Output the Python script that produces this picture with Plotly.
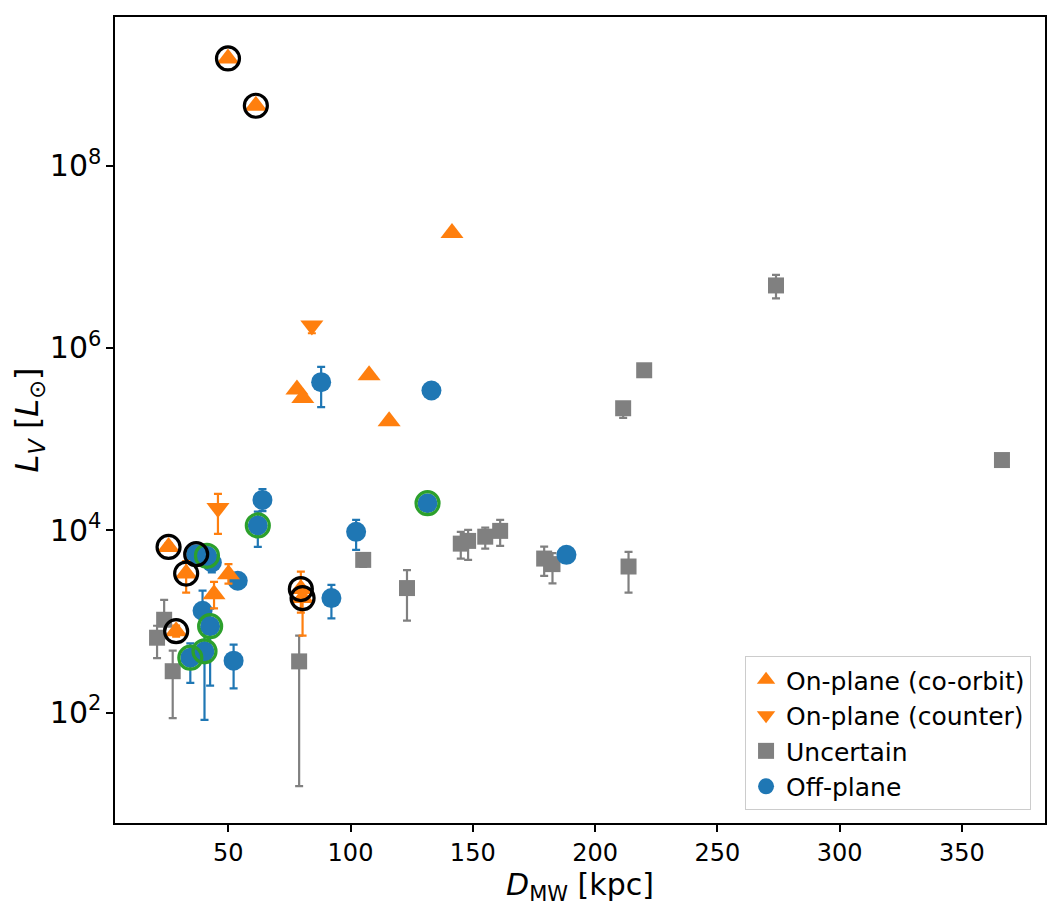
import plotly.graph_objects as go

# On-plane, co-orbiting (up triangles)
co_d = [49.9, 61.3, 141.5, 78.1, 80.5, 107.6, 115.8, 25.6, 32.8, 50.1, 44.2, 28.7, 79.7, 80.4]
co_l = [1.50e9, 4.54e8, 1.82e7, 3.50e5, 2.83e5, 5.02e5, 1.57e5, 6.56e3, 3.35e3, 3.30e3, 1.99e3, 780, 2.26e3, 1.80e3]
co_hi = [1.62e9, 4.9e8, 1.98e7, 3.50e5, 2.83e5, 5.02e5, 1.70e5, 7.2e3, 4.6e3, 4.25e3, 2.72e3, 900, 3.52e3, 2.3e3]
co_lo = [1.40e9, 4.2e8, 1.70e7, 3.50e5, 2.83e5, 5.02e5, 1.50e5, 6.0e3, 2.07e3, 2.6e3, 1.39e3, 680, 1.25e3, 697]

# On-plane, counter-orbiting (down triangles)
cn_d = [45.8, 84.2]
cn_l = [1.75e4, 1.76e6]
cn_hi = [2.50e4, 1.90e6]
cn_lo = [9.1e3, 1.45e6]

# Uncertain (squares)
un_d = [20.9, 23.8, 27.3, 79.0, 105.2, 123.1, 145.1, 148.1, 155.1, 161.2, 179.2, 182.6, 211.5, 213.7, 220.1, 274.0, 366.4]
un_l = [662, 1042, 284, 364, 4.73e3, 2.32e3, 7.13e3, 7.64e3, 8.5e3, 9.84e3, 4.89e3, 4.25e3, 2.18e5, 4.0e3, 5.69e5, 4.85e6, 5.89e4]
un_hi = [896, 1726, 478, 697, 5.3e3, 3.65e3, 9.6e3, 1.01e4, 1.07e4, 1.30e4, 6.62e3, 5.6e3, 2.5e5, 5.79e3, 5.69e5, 6.35e6, 5.89e4]
un_lo = [395, 649, 87, 15.6, 3.96e3, 1.02e3, 4.89e3, 4.73e3, 6.3e3, 6.73e3, 3.16e3, 2.61e3, 1.71e5, 2.07e3, 5.69e5, 3.50e6, 5.89e4]

# Off-plane (circles)
off_d = [64.0, 62.1, 88.0, 133.1, 131.5, 102.3, 188.3, 53.9, 39.5, 43.3, 36.9, 41.3, 42.6, 40.3, 34.5, 52.2, 92.2]
off_l = [2.15e4, 1.13e4, 4.21e5, 3.41e5, 1.98e4, 9.6e3, 5.37e3, 2.79e3, 1.31e3, 4.43e3, 5.46e3, 5.24e3, 885, 469, 400, 371, 1.80e3]
off_hi = [2.83e4, 1.6e4, 6.2e5, 3.41e5, 1.98e4, 1.30e4, 5.37e3, 2.79e3, 2.17e3, 5.6e3, 5.46e3, 5.24e3, 1.38e3, 795, 574, 555, 2.52e3]
off_lo = [1.62e4, 6.56e3, 2.24e5, 3.41e5, 1.98e4, 6.1e3, 5.37e3, 2.79e3, 832, 3.44e3, 5.46e3, 5.24e3, 197, 83, 211, 184, 1.08e3]

# highlighted satellites (indices into the series above)
black_co = [0, 1, 7, 8, 11, 12, 13]
black_off = [10]
green_off = [1, 4, 11, 12, 13, 14]

ORANGE = '#ff7f0e'
BLUE = '#1f77b4'
GRAY = '#808080'
GREEN = '#2ca02c'


def errs(l, hi, lo):
    return dict(type='data', symmetric=False,
                array=[h - v for h, v in zip(hi, l)],
                arrayminus=[v - w for v, w in zip(l, lo)],
                thickness=2.2, width=4)


fig = go.Figure()

fig.add_trace(go.Scatter(
    x=un_d, y=un_l, mode='markers', name='Uncertain',
    marker=dict(symbol='square', size=16, color=GRAY),
    error_y=dict(color=GRAY, **errs(un_l, un_hi, un_lo)),
    legendrank=3, legendgroup='un'))

fig.add_trace(go.Scatter(
    x=off_d, y=off_l, mode='markers', name='Off-plane',
    marker=dict(symbol='circle', size=20, color=BLUE),
    error_y=dict(color=BLUE, **errs(off_l, off_hi, off_lo)),
    legendrank=4, legendgroup='off'))

fig.add_trace(go.Scatter(
    x=co_d, y=co_l, mode='markers', name='On-plane (co-orbit)',
    marker=dict(symbol='triangle-up', size=20, color=ORANGE),
    error_y=dict(color=ORANGE, **errs(co_l, co_hi, co_lo)),
    legendrank=1, legendgroup='co'))

fig.add_trace(go.Scatter(
    x=cn_d, y=cn_l, mode='markers', name='On-plane (counter)',
    marker=dict(symbol='triangle-down', size=20, color=ORANGE),
    error_y=dict(color=ORANGE, **errs(cn_l, cn_hi, cn_lo)),
    legendrank=2, legendgroup='cn'))

# rings
fig.add_trace(go.Scatter(
    x=[off_d[i] for i in green_off], y=[off_l[i] for i in green_off],
    mode='markers', showlegend=False, hoverinfo='skip',
    marker=dict(symbol='circle-open', size=23, color=GREEN, line=dict(width=3.2))))
fig.add_trace(go.Scatter(
    x=[co_d[i] for i in black_co] + [off_d[i] for i in black_off],
    y=[co_l[i] for i in black_co] + [off_l[i] for i in black_off],
    mode='markers', showlegend=False, hoverinfo='skip',
    marker=dict(symbol='circle-open', size=23, color='black', line=dict(width=3.2))))

axis_common = dict(showline=True, linecolor='black', linewidth=1.6, mirror=True,
                   ticks='outside', ticklen=7, tickwidth=1.6, tickcolor='black',
                   showgrid=False, zeroline=False,
                   tickfont=dict(size=24, color='black'))

# page body adds 8px, so the figure is shrunk by that much
fig.update_layout(
    width=1051, height=910,
    margin=dict(l=107, r=14, t=7, b=95),
    plot_bgcolor='white', paper_bgcolor='white',
    font=dict(family='DejaVu Sans', color='black'),
    xaxis=dict(range=[3.7, 384.0], tickvals=[50, 100, 150, 200, 250, 300, 350],
               title=dict(text='<i>D</i><sub>MW</sub> [kpc]', font=dict(size=30), standoff=6),
               **axis_common),
    yaxis=dict(type='log', range=[0.788, 9.631], dtick=2, exponentformat='power',
               showexponent='all',
               title=dict(text='<i>L</i><sub><i>V</i></sub> [<i>L</i><sub>⊙</sub>]',
                          font=dict(size=32), standoff=8),
               **axis_common),
    legend=dict(x=0.985, y=0.016, xanchor='right', yanchor='bottom',
                bgcolor='rgba(255,255,255,0.8)', bordercolor='#cccccc', borderwidth=1,
                font=dict(size=25), tracegroupgap=3, traceorder='normal'),
)

fig.write_html('out.html')
